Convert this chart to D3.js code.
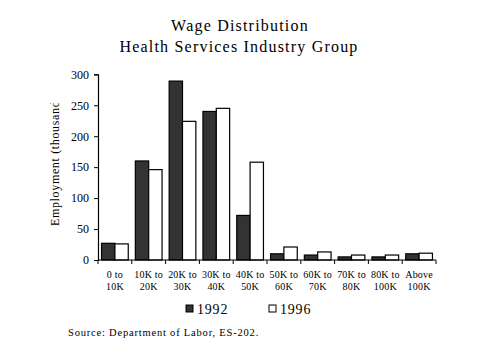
<!DOCTYPE html>
<html>
<head>
<meta charset="utf-8">
<script src="https://cdn.jsdelivr.net/npm/d3@7"></script>
<style>
  body { margin: 0; background: #fff; }
  text { font-family: "Liberation Serif", "Times New Roman", serif; fill: #000; }
</style>
</head>
<body>
<svg id="chart" width="479" height="359" font-family="Liberation Serif, serif"></svg>
<script>
const categories = ["0-10", "10-20", "20-30", "30-40", "40-50", "50-60", "60-70", "70-80", "80-100", "100+"];
const labelTop = ["0 to", "10K to", "20K to", "30K to", "40K to", "50K to", "60K to", "70K to", "80K to", "Above"];
const labelBottom = ["10K", "20K", "30K", "40K", "50K", "60K", "70K", "80K", "100K", "100K"];
const years = ["1992", "1996"];
const values1992 = [27, 160, 289, 240, 72, 10, 8, 5, 5, 10];
const values1996 = [26, 146, 224, 245, 158, 21, 13, 8, 8, 11];
const yTicks = [0, 50, 100, 150, 200, 250, 300];
const colors = ["#333333", "#ffffff"];

// plot box
const plot_left = 98, plot_right = 436, plot_top = 74.3, plot_bottom = 260;
const serif = "Liberation Serif, serif";

const svg = d3.select("#chart");

const x = d3.scaleBand()
    .domain(categories)
    .range([plot_left, plot_right])
    .paddingInner(0.21)
    .paddingOuter(0.105);

const xYear = d3.scaleBand()
    .domain(years)
    .range([0, x.bandwidth()]);

const y = d3.scaleLinear()
    .domain([0, 300])
    .range([plot_bottom, plot_top]);

// title
svg.append("text")
    .attr("x", 240).attr("y", 31)
    .attr("text-anchor", "middle")
    .attr("font-family", serif)
    .style("font-size", "16px")
    .style("letter-spacing", "1.2px")
    .text("Wage Distribution");

svg.append("text")
    .attr("x", 239).attr("y", 52)
    .attr("text-anchor", "middle")
    .attr("font-family", serif)
    .style("font-size", "16px")
    .style("letter-spacing", "1.2px")
    .text("Health Services Industry Group");

// bars
const rows = categories.map((c, i) => ({ cat: c, vals: [values1992[i], values1996[i]] }));

const groups = svg.append("g").selectAll("g")
    .data(rows)
    .join("g")
    .attr("transform", d => "translate(" + x(d.cat) + ",0)");

groups.selectAll("rect")
    .data(d => d.vals.map((v, j) => ({ year: years[j], v: v, j: j })))
    .join("rect")
    .attr("x", d => xYear(d.year))
    .attr("y", d => y(d.v))
    .attr("width", xYear.bandwidth())
    .attr("height", d => y(0) - y(d.v))
    .attr("fill", d => colors[d.j])
    .attr("stroke", "#000")
    .attr("stroke-width", 1.2);

// y axis
const yAxis = svg.append("g")
    .attr("transform", "translate(" + plot_left + ",0)")
    .call(d3.axisLeft(y).tickValues(yTicks).tickSize(4).tickPadding(5));
yAxis.attr("font-family", serif).attr("font-size", 12);
yAxis.select(".domain").attr("stroke-width", 1.2);
yAxis.selectAll("text").attr("font-family", serif).style("font-size", "12px");

// x axis: ticks on category boundaries
const boundaries = categories.map(c => x(c) - x.step() * x.paddingInner() / 2);
boundaries.push(plot_right);

const xAxis = svg.append("g");
xAxis.append("line")
    .attr("x1", plot_left).attr("x2", plot_right)
    .attr("y1", plot_bottom).attr("y2", plot_bottom)
    .attr("stroke", "#000").attr("stroke-width", 1.2);
xAxis.selectAll(".xtick")
    .data(boundaries)
    .join("line")
    .attr("class", "xtick")
    .attr("x1", d => d).attr("x2", d => d)
    .attr("y1", plot_bottom).attr("y2", plot_bottom + 4)
    .attr("stroke", "#000");

const xLabels = svg.append("g").selectAll("text")
    .data(categories)
    .join("text")
    .attr("x", d => x(d) + x.bandwidth() / 2)
    .attr("y", 278)
    .attr("text-anchor", "middle")
    .attr("font-family", serif)
    .style("font-size", "10px")
    .style("letter-spacing", "0.2px");
xLabels.append("tspan").text((d, i) => labelTop[i]);
xLabels.append("tspan")
    .attr("x", d => x(d) + x.bandwidth() / 2)
    .attr("dy", 12)
    .text((d, i) => labelBottom[i]);

// y axis title, clipped at the top like the original
svg.append("clipPath").attr("id", "ytitle-clip")
    .append("rect").attr("x", 30).attr("y", 103).attr("width", 40).attr("height", 140);

svg.append("g")
    .attr("clip-path", "url(#ytitle-clip)")
    .append("text")
    .attr("transform", "translate(59,226) rotate(-90)")
    .attr("text-anchor", "start")
    .attr("font-family", serif)
    .style("font-size", "12px")
    .style("letter-spacing", "0.65px")
    .text("Employment (thousands)");

// legend
const legendX = [186, 269];
const legend = svg.append("g").selectAll("g")
    .data(years)
    .join("g")
    .attr("transform", (d, i) => "translate(" + legendX[i] + ",305)");
legend.append("rect")
    .attr("width", 7).attr("height", 7)
    .attr("fill", (d, i) => colors[i])
    .attr("stroke", "#000");
legend.append("text")
    .attr("x", 11).attr("y", 9)
    .attr("font-family", serif)
    .style("font-size", "14px")
    .style("letter-spacing", "0.8px")
    .text(d => d);

// source
svg.append("text")
    .attr("x", 68).attr("y", 336)
    .attr("font-family", serif)
    .style("font-size", "10.5px")
    .style("letter-spacing", "0.8px")
    .text("Source:  Department of Labor, ES-202.");
</script>
</body>
</html>
